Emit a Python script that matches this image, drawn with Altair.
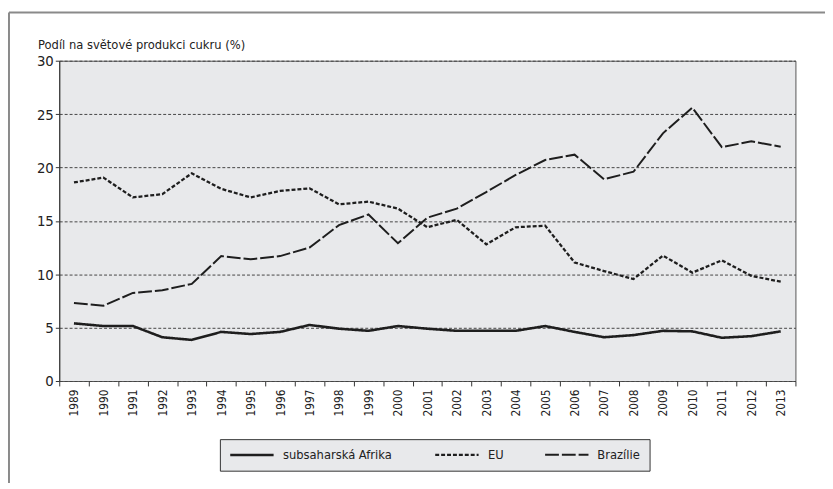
import altair as alt
import pandas as pd

years = list(range(1989, 2014))
africa = [5.4, 5.15, 5.15, 4.1, 3.85, 4.6, 4.4, 4.6, 5.25, 4.9, 4.7, 5.15,
          4.9, 4.7, 4.7, 4.7, 5.15, 4.6, 4.1, 4.3, 4.7, 4.65, 4.05, 4.2, 4.65]
eu = [18.6, 19.05, 17.2, 17.5, 19.45, 18.0, 17.2, 17.8, 18.05, 16.55, 16.8, 16.15,
      14.4, 15.1, 12.8, 14.4, 14.55, 11.1, 10.3, 9.55, 11.75, 10.15, 11.3, 9.85, 9.3]
brazil = [7.3, 7.05, 8.25, 8.5, 9.1, 11.7, 11.4, 11.7, 12.5, 14.6, 15.6, 12.9,
          15.3, 16.15, 17.7, 19.3, 20.7, 21.2, 18.9, 19.6, 23.2, 25.6, 21.9, 22.45, 21.95]
series_names = ["subsaharská Afrika", "EU", "Brazílie"]

rows = []
for name, vals in zip(series_names, [africa, eu, brazil]):
    for y, v in zip(years, vals):
        rows.append({"rok": str(y), "hodnota": v, "region": name})
df = pd.DataFrame(rows)

FONT = "'DejaVu Sans Condensed', 'Liberation Sans', sans-serif"

lines = alt.Chart(df).mark_line(color="#1e1e1e").encode(
    x=alt.X("rok:O", scale=alt.Scale(type="band", paddingInner=0, paddingOuter=0),
            axis=alt.Axis(title=None, labelAngle=-90, tickBand="extent", tickSize=5,
                          labelFontSize=12, labelColor="#222", tickColor="#333",
                          domain=False, labelPadding=3)),
    y=alt.Y("hodnota:Q", scale=alt.Scale(domain=[0, 30], nice=False),
            axis=alt.Axis(values=[0, 5, 10, 15, 20, 25, 30], tickSize=4,
                          grid=True, gridDash=[3, 2], gridColor="#444", gridWidth=1,
                          domainColor="#333", tickColor="#333",
                          labelFontSize=15, labelColor="#222", labelPadding=2,
                          title="Podíl na světové produkci cukru  (%)",
                          titleAngle=0, titleAlign="left", titleBaseline="alphabetic",
                          titleX=-22, titleY=-12, titleFontSize=13,
                          titleFontWeight="normal", titleColor="#222")),
    strokeDash=alt.StrokeDash("region:N",
                              scale=alt.Scale(domain=series_names,
                                              range=[[1, 0], [4, 2], [14, 3]]),
                              legend=alt.Legend(title=None, orient="none",
                                                direction="horizontal",
                                                legendX=163, legendY=384,
                                                symbolType="M-1,0H7", symbolSize=121,
                                                symbolStrokeColor="#1e1e1e",
                                                symbolStrokeWidth=2,
                                                labelFontSize=13, labelColor="#222",
                                                columnPadding=38, padding=9,
                                                fillColor="#e8e9eb", strokeColor="#333",
                                                labelOffset=41)),
    strokeWidth=alt.StrokeWidth("region:N",
                                scale=alt.Scale(domain=series_names, range=[2.6, 2, 2]),
                                legend=None),
)

frame = alt.Chart(pd.DataFrame({"a": [0]})).mark_rule(color="#8a8a8a", strokeWidth=2).encode(
    x=alt.value(-51), x2=alt.value(780), y=alt.value(-49)
)
frame2 = alt.Chart(pd.DataFrame({"a": [0]})).mark_rule(color="#8a8a8a", strokeWidth=2).encode(
    x=alt.value(-51), y=alt.value(-49), y2=alt.value(440)
)

chart = alt.layer(lines, frame, frame2).properties(
    width=747, height=325,
    autosize=alt.AutoSizeParams(type="none"),
    padding={"left": 52, "top": 50, "right": 30, "bottom": 100},
).configure(font=FONT).configure_view(
    fill="#e8e9eb", stroke="#555", strokeWidth=1
)

chart.save("out.html", embed_options={"renderer": "svg", "actions": False})
